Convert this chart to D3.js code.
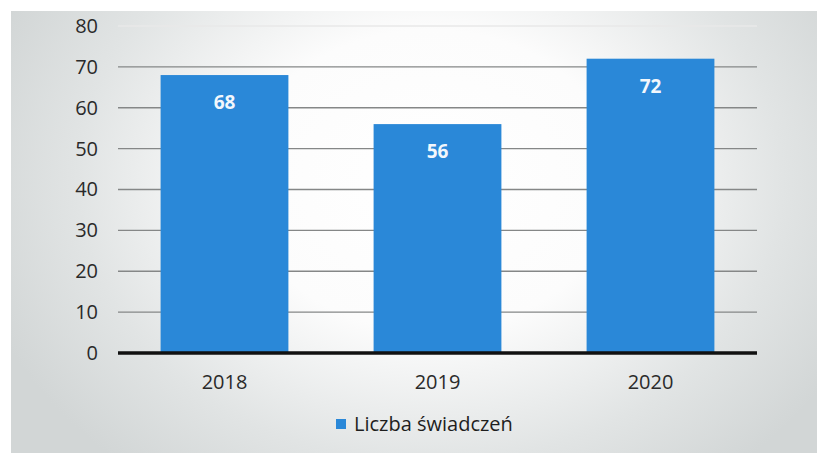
<!DOCTYPE html>
<html>
<head>
<meta charset="utf-8">
<script src="https://cdn.jsdelivr.net/npm/d3@7"></script>
<style>
  body { margin: 0; background: #fff; }
  svg { display: block; }
</style>
</head>
<body>
<div id="chart"></div>
<script>
let years = ["2018", "2019", "2020"]
let values = [68, 56, 72]
let yTicks = [0, 10, 20, 30, 40, 50, 60, 70, 80]
let seriesName = "Liczba świadczeń"

let W = 817, H = 453
let margin = { top: 26, right: 60, bottom: 100, left: 118 }
let width = 757 - margin.left
let height = 353 - margin.top
let font = "'Open Sans', 'Noto Sans', sans-serif"

let root = d3.select("#chart")
    .append("svg")
    .attr("width", W)
    .attr("height", H)

// paper look: white middle, gray edges
let grad = root.append("defs").append("radialGradient")
    .attr("id", "paper")
    .attr("gradientUnits", "userSpaceOnUse")
    .attr("cx", 430).attr("cy", 180).attr("r", 470)
    .attr("gradientTransform", "translate(430,180) scale(1,0.8) translate(-430,-180)")
grad.append("stop").attr("offset", 0).attr("stop-color", "#ffffff")
grad.append("stop").attr("offset", 0.4).attr("stop-color", "#fcfcfc")
grad.append("stop").attr("offset", 0.75).attr("stop-color", "#e1e4e4")
grad.append("stop").attr("offset", 1).attr("stop-color", "#d2d6d6")

root.append("rect")
    .attr("x", 11).attr("y", 11)
    .attr("width", W - 11).attr("height", H - 11)
    .attr("fill", "url(#paper)")

let svg = root.append("g")
    .attr("transform", "translate(" + margin.left + "," + margin.top + ")")

let x = d3.scaleBand().domain(years).range([0, width]).paddingInner(0.4).paddingOuter(0.2)
let y = d3.scaleLinear().domain([0, 80]).range([height, 0])

// gridlines
svg.append("g")
    .selectAll("line")
    .data(yTicks.filter(d => d > 0))
    .join("line")
    .attr("x1", 0)
    .attr("x2", width)
    .attr("y1", d => y(d))
    .attr("y2", d => y(d))
    .attr("stroke", d => d == 80 ? "#e8e8e8" : "#858787")
    .attr("stroke-width", 1.3)

// y axis labels
let yAxis = d3.axisLeft(y).tickValues(yTicks).tickSize(0).tickPadding(20)
let ya = svg.append("g").call(yAxis)
ya.select(".domain").remove()
ya.selectAll("text")
    .attr("font-family", font)
    .attr("font-size", 20)
    .attr("fill", "#2a2a2a")

// bars
svg.selectAll(".bar")
    .data(values)
    .join("rect")
    .attr("class", "bar")
    .attr("x", (d, i) => x(years[i]))
    .attr("y", d => y(d))
    .attr("width", x.bandwidth())
    .attr("height", d => height - y(d))
    .attr("fill", "#2a88d8")

svg.selectAll(".lbl")
    .data(values)
    .join("text")
    .attr("class", "lbl")
    .attr("x", (d, i) => x(years[i]) + x.bandwidth() / 2)
    .attr("y", d => y(d) + 34)
    .attr("text-anchor", "middle")
    .attr("font-family", font)
    .attr("font-weight", "bold")
    .attr("font-size", 19)
    .attr("fill", "#f2f7fc")
    .text(d => d)

// zero line
svg.append("line")
    .attr("x1", 0).attr("x2", width)
    .attr("y1", y(0)).attr("y2", y(0))
    .attr("stroke", "#111")
    .attr("stroke-width", 3.5)

// x axis labels
let xAxis = d3.axisBottom(x).tickSize(0).tickPadding(22)
let xa = svg.append("g")
    .attr("transform", "translate(0," + height + ")")
    .call(xAxis)
xa.select(".domain").remove()
xa.selectAll("text")
    .attr("font-family", font)
    .attr("font-size", 20)
    .attr("fill", "#2a2a2a")

// legend
let legend = root.append("g").attr("transform", "translate(336,419)")
legend.append("rect")
    .attr("width", 10).attr("height", 10)
    .attr("fill", "#2a88d8")
legend.append("text")
    .attr("x", 18).attr("y", 5)
    .attr("dy", "0.35em")
    .attr("font-family", font)
    .attr("font-size", 20)
    .attr("fill", "#1e1e1e")
    .text(seriesName)
</script>
</body>
</html>
